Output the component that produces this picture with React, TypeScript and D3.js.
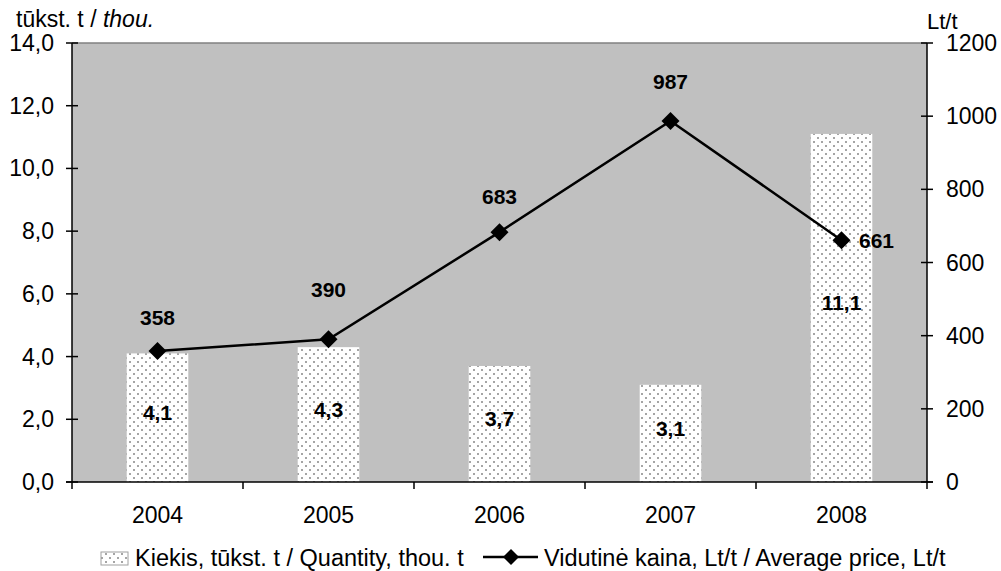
import React from 'react';
import * as d3 from 'd3';

const years = ['2004', '2005', '2006', '2007', '2008'];
const quantity = [4.1, 4.3, 3.7, 3.1, 11.1];
const price = [358, 390, 683, 987, 661];
const leftTicks = [0, 2, 4, 6, 8, 10, 12, 14];
const rightTicks = [0, 200, 400, 600, 800, 1000, 1200];
const quantityLegend = 'Kiekis, tūkst. t / Quantity, thou. t';
const priceLegend = 'Vidutinė kaina, Lt/t / Average price, Lt/t';

// where each price label sits relative to its marker
const priceLabelShift = [[0, -33], [0, -50], [0, -35], [0, -39], [35, 0]];

const W = 1001;
const H = 571;
const m = { left: 72, right: 927, top: 43, bottom: 482 };
const font = '"Liberation Sans", Arial, sans-serif';

const fmt = (v: number) => v.toFixed(1).replace('.', ',');

const diamond = (cx: number, cy: number, r: number) =>
  `M${cx},${cy - r}L${cx + r},${cy}L${cx},${cy + r}L${cx - r},${cy}Z`;

export default function App() {
  const x = d3.scaleBand<string>().domain(years).range([m.left, m.right]).paddingInner(0.64).paddingOuter(0.32);
  const band = d3.scaleBand<string>().domain(years).range([m.left, m.right]);
  const yL = d3.scaleLinear().domain([0, 14]).range([m.bottom, m.top]);
  const yR = d3.scaleLinear().domain([0, 1200]).range([m.bottom, m.top]);

  const line = d3.line<number>()
    .x((_, i) => band(years[i])! + band.bandwidth() / 2)
    .y(d => yR(d));

  return (
    <svg width={W} height={H} style={{ position: 'absolute', left: 0, top: 0, fontFamily: font }}>
      <defs>
        <pattern id="dots" width={8} height={8} patternUnits="userSpaceOnUse">
          <rect width={8} height={8} fill="#fff" />
          <circle cx={2} cy={2} r={0.8} fill="#333" />
          <circle cx={6} cy={6} r={0.8} fill="#333" />
        </pattern>
      </defs>
      <rect width={W} height={H} fill="#fff" />

      {/* plot area */}
      <rect x={m.left} y={m.top} width={m.right - m.left} height={m.bottom - m.top} fill="#c0c0c0" />
      <line x1={m.left} x2={m.right} y1={m.top} y2={m.top} stroke="#808080" strokeWidth={1.5} />

      {/* bars */}
      {quantity.map((v, i) => (
        <rect key={years[i]} x={x(years[i])} y={yL(v)} width={x.bandwidth()} height={m.bottom - yL(v)} fill="url(#dots)" />
      ))}

      {/* axes */}
      <line x1={m.left} x2={m.left} y1={m.top} y2={m.bottom + 7} stroke="#000" strokeWidth={1.5} />
      <line x1={m.right} x2={m.right} y1={m.top} y2={m.bottom + 7} stroke="#000" strokeWidth={1.5} />
      <line x1={m.left - 6} x2={m.right + 6} y1={m.bottom} y2={m.bottom} stroke="#000" strokeWidth={1.5} />

      {leftTicks.map(t => (
        <g key={'l' + t}>
          <line x1={m.left - 6} x2={m.left + 6} y1={yL(t)} y2={yL(t)} stroke="#000" strokeWidth={1.5} />
          <text x={54} y={yL(t)} dy="0.35em" textAnchor="end" fontSize={23}>{fmt(t)}</text>
        </g>
      ))}
      {rightTicks.map(t => (
        <g key={'r' + t}>
          <line x1={m.right - 6} x2={m.right + 6} y1={yR(t)} y2={yR(t)} stroke="#000" strokeWidth={1.5} />
          <text x={946} y={yR(t)} dy="0.35em" textAnchor="start" fontSize={23}>{t}</text>
        </g>
      ))}
      {years.map((yv, i) => (
        <g key={'x' + yv}>
          {i > 0 && <line x1={band(yv)} x2={band(yv)} y1={m.bottom} y2={m.bottom + 7} stroke="#000" strokeWidth={1.5} />}
          <text x={band(yv)! + band.bandwidth() / 2} y={523} textAnchor="middle" fontSize={23}>{yv}</text>
        </g>
      ))}

      {/* axis titles */}
      <text x={16} y={27} fontSize={23}>tūkst. t / <tspan fontStyle="italic">thou.</tspan></text>
      <text x={927} y={29} fontSize={22}>Lt/t</text>

      {/* bar labels */}
      {quantity.map((v, i) => (
        <text key={'bl' + i} x={band(years[i])! + band.bandwidth() / 2} y={(yL(v) + m.bottom) / 2 - 5} dy="0.35em"
          textAnchor="middle" fontSize={21} fontWeight="bold">{fmt(v)}</text>
      ))}

      {/* price line */}
      <path d={line(price) || ''} fill="none" stroke="#000" strokeWidth={2.5} />
      {price.map((v, i) => {
        const cx = band(years[i])! + band.bandwidth() / 2;
        const cy = yR(v);
        const [dx, dy] = priceLabelShift[i];
        return (
          <g key={'p' + i}>
            <path d={diamond(cx, cy, 9)} fill="#000" />
            <text x={cx + dx} y={cy + dy} dy="0.35em" textAnchor="middle" fontSize={21} fontWeight="bold">{v}</text>
          </g>
        );
      })}

      {/* legend */}
      <rect x={101} y={552} width={27} height={13} fill="url(#dots)" stroke="#a0a0a0" strokeWidth={1} />
      <text x={135} y={566} fontSize={23.5}>{quantityLegend}</text>
      <line x1={483} x2={538} y1={557} y2={557} stroke="#000" strokeWidth={2.5} />
      <path d={diamond(511, 557, 8)} fill="#000" />
      <text x={544} y={566} fontSize={23.5}>{priceLegend}</text>
    </svg>
  );
}
